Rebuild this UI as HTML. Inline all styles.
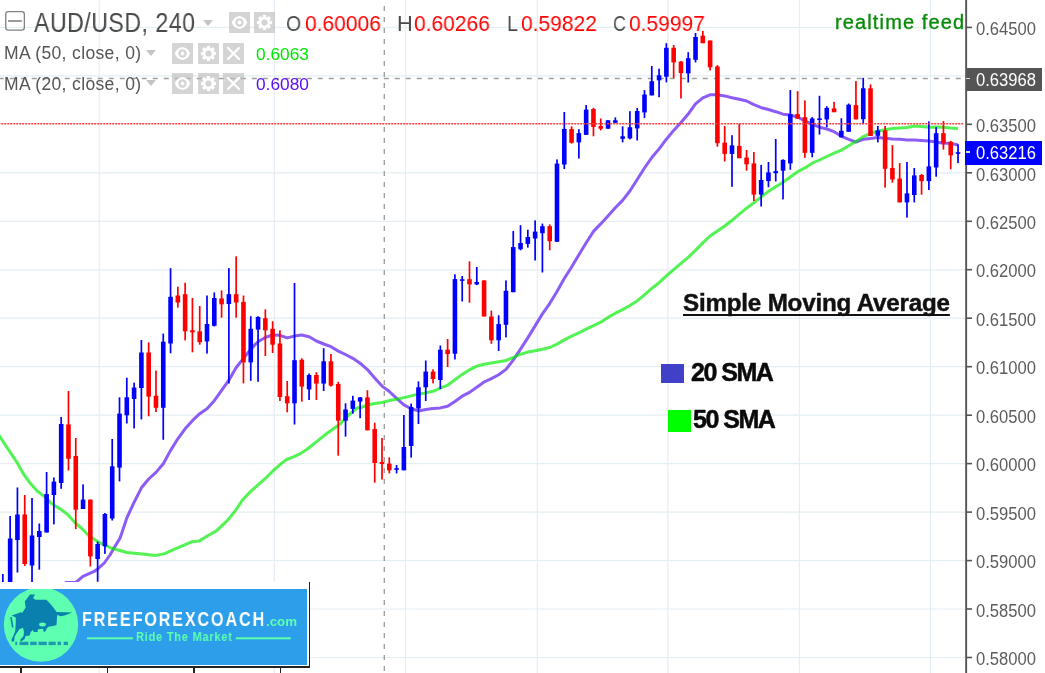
<!DOCTYPE html>
<html><head><meta charset="utf-8"><style>
*{margin:0;padding:0;box-sizing:border-box}
html,body{width:1045px;height:673px;overflow:hidden;background:#fff}
body{position:relative;font-family:"Liberation Sans",sans-serif}
svg{position:absolute;left:0;top:0}
.t{position:absolute;white-space:pre;line-height:1;will-change:transform}
.ax{position:absolute;left:976px;font-size:16.6px;color:#5d5d5d;line-height:21px;white-space:pre;transform:scaleY(1.05);transform-origin:0 50%;will-change:transform}
.btn{position:absolute;width:21px;height:21px;background:rgba(188,188,188,0.64)}
.tri{position:absolute;width:0;height:0;border-left:5.5px solid transparent;border-right:5.5px solid transparent;border-top:6px solid #c4c4c4}
</style></head><body>
<svg width="1045" height="673" viewBox="0 0 1045 673">
<line x1="99.2" y1="0" x2="99.2" y2="673" stroke="#e5eef3" stroke-width="1.2"/>
<line x1="274.3" y1="0" x2="274.3" y2="673" stroke="#e5eef3" stroke-width="1.2"/>
<line x1="405.5" y1="0" x2="405.5" y2="673" stroke="#e5eef3" stroke-width="1.2"/>
<line x1="537.3" y1="0" x2="537.3" y2="673" stroke="#e5eef3" stroke-width="1.2"/>
<line x1="667.8" y1="0" x2="667.8" y2="673" stroke="#e5eef3" stroke-width="1.2"/>
<line x1="799.4" y1="0" x2="799.4" y2="673" stroke="#e5eef3" stroke-width="1.2"/>
<line x1="930.4" y1="0" x2="930.4" y2="673" stroke="#e5eef3" stroke-width="1.2"/>
<line x1="0" y1="27.4" x2="966" y2="27.4" stroke="#e5eef3" stroke-width="1.2"/>
<line x1="0" y1="75.9" x2="966" y2="75.9" stroke="#e5eef3" stroke-width="1.2"/>
<line x1="0" y1="172.8" x2="966" y2="172.8" stroke="#e5eef3" stroke-width="1.2"/>
<line x1="0" y1="221.3" x2="966" y2="221.3" stroke="#e5eef3" stroke-width="1.2"/>
<line x1="0" y1="269.8" x2="966" y2="269.8" stroke="#e5eef3" stroke-width="1.2"/>
<line x1="0" y1="318.2" x2="966" y2="318.2" stroke="#e5eef3" stroke-width="1.2"/>
<line x1="0" y1="366.7" x2="966" y2="366.7" stroke="#e5eef3" stroke-width="1.2"/>
<line x1="0" y1="415.2" x2="966" y2="415.2" stroke="#e5eef3" stroke-width="1.2"/>
<line x1="0" y1="463.6" x2="966" y2="463.6" stroke="#e5eef3" stroke-width="1.2"/>
<line x1="0" y1="512.1" x2="966" y2="512.1" stroke="#e5eef3" stroke-width="1.2"/>
<line x1="0" y1="560.6" x2="966" y2="560.6" stroke="#e5eef3" stroke-width="1.2"/>
<line x1="0" y1="609.0" x2="966" y2="609.0" stroke="#e5eef3" stroke-width="1.2"/>
<line x1="0" y1="657.5" x2="966" y2="657.5" stroke="#e5eef3" stroke-width="1.2"/>
<line x1="384.3" y1="0" x2="384.3" y2="673" stroke="#9e9e9e" stroke-width="1.35" stroke-dasharray="5 6" stroke-dashoffset="-6"/>
<line x1="0" y1="78.5" x2="966" y2="78.5" stroke="#9e9e9e" stroke-width="1.35" stroke-dasharray="5 6" stroke-dashoffset="1.2"/>
<path d="M20.0,605.0 L50.0,592.0 L60.0,586.0 L66.5,582.4 L76.2,582.2 L82.9,576.4 L93.6,571.7 L98.3,568.4 L104.3,563.0 L110.0,555.0 L113.4,549.1 L120.1,538.0 L126.8,518.0 L133.5,503.5 L141.4,487.8 L148.7,479.0 L156.0,472.4 L163.3,463.8 L170.6,450.4 L177.8,438.8 L185.1,428.8 L192.4,420.7 L199.7,413.7 L207.0,408.7 L214.3,400.7 L221.6,390.4 L228.9,380.2 L236.2,367.5 L243.5,358.4 L250.8,349.1 L258.0,341.7 L265.3,337.5 L272.6,334.9 L279.9,335.3 L287.2,337.9 L294.5,336.1 L301.8,335.0 L309.1,336.7 L316.4,341.0 L323.7,344.0 L331.0,346.7 L338.3,351.1 L345.5,354.5 L352.8,358.3 L360.1,363.2 L367.4,369.6 L374.7,378.0 L382.0,386.1 L389.3,391.5 L396.6,398.4 L403.9,404.9 L411.2,408.8 L418.5,410.9 L425.8,409.6 L433.0,408.4 L440.3,407.9 L447.6,406.3 L454.9,401.5 L462.2,396.2 L469.5,392.4 L476.8,387.2 L484.1,382.0 L491.4,378.6 L498.7,374.7 L506.0,369.4 L513.2,360.2 L520.5,349.2 L527.8,337.9 L535.1,325.9 L542.4,313.9 L549.7,303.6 L557.0,291.4 L564.3,278.5 L571.6,267.0 L578.9,254.7 L586.2,242.7 L593.5,231.4 L600.7,223.9 L608.0,215.9 L615.3,207.7 L622.6,200.4 L629.9,191.0 L637.2,179.5 L644.5,168.0 L651.8,157.5 L659.1,148.9 L666.4,139.2 L673.7,130.4 L681.0,122.5 L688.2,114.1 L695.5,103.9 L702.8,97.9 L710.1,94.8 L717.4,94.8 L724.7,95.9 L732.0,97.7 L739.3,99.2 L746.6,101.0 L753.9,104.7 L761.2,107.7 L768.4,109.5 L775.7,111.7 L783.0,114.2 L790.3,115.1 L797.6,117.0 L804.9,120.9 L812.2,124.4 L819.5,127.2 L826.8,129.0 L834.1,131.7 L841.4,136.3 L848.7,139.4 L855.9,142.0 L863.2,139.3 L870.5,138.4 L877.8,137.6 L885.1,138.2 L892.4,138.9 L899.7,139.3 L907.0,140.0 L914.3,140.1 L921.6,140.6 L928.9,141.0 L936.1,141.9 L943.4,143.2 L950.7,143.3 L958.0,145.0" fill="none" stroke="#8c5cf6" stroke-width="3" stroke-linejoin="round" stroke-linecap="butt"/>
<path d="M-5.0,429.0 L0.0,436.9 L8.9,450.3 L17.8,463.7 L23.2,473.5 L30.3,483.3 L37.4,491.3 L44.6,496.6 L51.7,503.8 L60.6,509.1 L67.7,514.5 L74.9,522.5 L82.0,528.7 L88.9,535.8 L100.0,542.9 L111.2,548.0 L126.8,552.5 L142.4,554.0 L155.7,555.4 L164.6,553.6 L173.5,549.6 L180.0,546.9 L192.2,541.7 L199.0,541.1 L208.6,535.3 L216.4,530.9 L228.0,519.9 L235.7,510.2 L242.5,500.0 L251.2,490.9 L258.9,484.1 L266.6,477.3 L274.3,469.6 L282.1,462.9 L286.7,459.5 L293.4,456.9 L300.0,453.8 L306.7,449.5 L313.4,444.2 L320.1,438.8 L326.8,433.5 L333.5,428.8 L340.2,423.9 L346.8,416.8 L353.5,410.7 L358.3,407.4 L360.1,407.9 L367.4,405.0 L374.7,403.5 L382.0,402.5 L389.3,400.6 L396.6,399.3 L403.9,397.6 L411.2,395.9 L418.5,394.0 L425.8,392.9 L433.0,391.3 L440.3,388.1 L447.6,385.2 L454.9,379.7 L462.2,374.4 L469.5,369.8 L476.8,366.1 L484.1,364.2 L491.4,363.0 L498.7,361.8 L506.0,360.5 L513.2,357.5 L520.5,354.2 L527.8,352.1 L535.1,350.8 L542.4,349.3 L549.7,347.5 L557.0,344.1 L564.3,339.9 L571.6,336.2 L578.9,332.9 L586.2,329.1 L593.5,325.7 L600.7,322.2 L608.0,317.4 L615.3,313.2 L622.6,309.6 L629.9,305.5 L637.2,300.9 L644.5,294.8 L651.8,288.4 L659.1,282.7 L666.4,275.9 L673.7,269.7 L681.0,263.4 L688.2,257.4 L695.5,250.4 L702.8,242.9 L710.1,236.0 L717.4,230.9 L724.7,226.0 L732.0,220.3 L739.3,214.2 L746.6,208.2 L753.9,202.7 L761.2,196.9 L768.4,191.4 L775.7,186.7 L783.0,182.2 L790.3,177.0 L797.6,171.8 L804.9,167.9 L812.2,163.2 L819.5,160.0 L826.8,156.5 L834.1,153.1 L841.4,150.1 L848.7,145.8 L855.9,141.4 L863.2,136.7 L870.5,133.6 L877.8,131.3 L885.1,129.8 L892.4,128.6 L899.7,128.0 L907.0,127.4 L914.3,126.1 L921.6,126.4 L928.9,127.2 L936.1,127.0 L943.4,127.2 L950.7,128.1 L958.0,128.6" fill="none" stroke="rgba(0,238,0,0.68)" stroke-width="3" stroke-linejoin="round" stroke-linecap="butt"/>
<rect x="2.00" y="574.0" width="1.7" height="8.0" fill="#0000ff"/>
<rect x="9.29" y="516.0" width="1.7" height="66.0" fill="#0000ff"/>
<rect x="7.84" y="538.5" width="4.6" height="43.5" fill="#0000ff"/>
<rect x="16.58" y="487.5" width="1.7" height="85.0" fill="#0000ff"/>
<rect x="15.13" y="514.5" width="4.6" height="25.5" fill="#0000ff"/>
<rect x="23.87" y="495.0" width="1.7" height="71.0" fill="#ff0000"/>
<rect x="22.42" y="514.5" width="4.6" height="49.5" fill="#ff0000"/>
<rect x="31.17" y="498.0" width="1.7" height="84.0" fill="#0000ff"/>
<rect x="29.72" y="535.5" width="4.6" height="30.0" fill="#0000ff"/>
<rect x="38.46" y="523.5" width="1.7" height="46.2" fill="#0000ff"/>
<rect x="37.01" y="531.0" width="4.6" height="6.0" fill="#0000ff"/>
<rect x="45.75" y="472.0" width="1.7" height="60.5" fill="#0000ff"/>
<rect x="44.30" y="494.0" width="4.6" height="38.5" fill="#0000ff"/>
<rect x="53.04" y="477.5" width="1.7" height="46.9" fill="#0000ff"/>
<rect x="51.59" y="481.6" width="4.6" height="13.4" fill="#0000ff"/>
<rect x="60.33" y="417.0" width="1.7" height="71.8" fill="#0000ff"/>
<rect x="58.88" y="424.0" width="4.6" height="59.0" fill="#0000ff"/>
<rect x="67.62" y="391.0" width="1.7" height="79.6" fill="#ff0000"/>
<rect x="66.17" y="424.4" width="4.6" height="34.4" fill="#ff0000"/>
<rect x="74.91" y="438.0" width="1.7" height="91.2" fill="#ff0000"/>
<rect x="73.46" y="456.0" width="4.6" height="53.7" fill="#ff0000"/>
<rect x="82.21" y="484.4" width="1.7" height="24.6" fill="#0000ff"/>
<rect x="80.76" y="499.6" width="4.6" height="9.4" fill="#0000ff"/>
<rect x="89.50" y="499.6" width="1.7" height="66.9" fill="#ff0000"/>
<rect x="88.05" y="499.6" width="4.6" height="56.8" fill="#ff0000"/>
<rect x="96.79" y="541.7" width="1.7" height="40.0" fill="#0000ff"/>
<rect x="95.34" y="544.0" width="4.6" height="15.0" fill="#0000ff"/>
<rect x="104.08" y="513.0" width="1.7" height="40.9" fill="#0000ff"/>
<rect x="102.63" y="514.0" width="4.6" height="32.3" fill="#0000ff"/>
<rect x="111.37" y="439.0" width="1.7" height="81.5" fill="#0000ff"/>
<rect x="109.92" y="466.3" width="4.6" height="52.2" fill="#0000ff"/>
<rect x="118.66" y="397.3" width="1.7" height="84.1" fill="#0000ff"/>
<rect x="117.21" y="413.6" width="4.6" height="54.0" fill="#0000ff"/>
<rect x="125.95" y="377.7" width="1.7" height="45.8" fill="#0000ff"/>
<rect x="124.50" y="397.3" width="4.6" height="18.0" fill="#0000ff"/>
<rect x="133.25" y="382.6" width="1.7" height="45.8" fill="#0000ff"/>
<rect x="131.80" y="387.5" width="4.6" height="11.5" fill="#0000ff"/>
<rect x="140.54" y="340.0" width="1.7" height="79.5" fill="#0000ff"/>
<rect x="139.09" y="352.5" width="4.6" height="35.5" fill="#0000ff"/>
<rect x="147.83" y="342.4" width="1.7" height="73.9" fill="#ff0000"/>
<rect x="146.38" y="352.5" width="4.6" height="44.1" fill="#ff0000"/>
<rect x="155.12" y="370.5" width="1.7" height="41.5" fill="#ff0000"/>
<rect x="153.67" y="395.7" width="4.6" height="12.1" fill="#ff0000"/>
<rect x="162.41" y="333.6" width="1.7" height="106.2" fill="#0000ff"/>
<rect x="160.96" y="341.7" width="4.6" height="66.1" fill="#0000ff"/>
<rect x="169.70" y="268.2" width="1.7" height="85.1" fill="#0000ff"/>
<rect x="168.25" y="296.8" width="4.6" height="46.7" fill="#0000ff"/>
<rect x="176.99" y="286.6" width="1.7" height="21.0" fill="#ff0000"/>
<rect x="175.54" y="295.5" width="4.6" height="7.0" fill="#ff0000"/>
<rect x="184.28" y="282.8" width="1.7" height="57.6" fill="#ff0000"/>
<rect x="182.83" y="294.2" width="4.6" height="37.1" fill="#ff0000"/>
<rect x="191.58" y="298.0" width="1.7" height="54.3" fill="#ff0000"/>
<rect x="190.13" y="330.3" width="4.6" height="2.0" fill="#ff0000"/>
<rect x="198.87" y="306.0" width="1.7" height="38.7" fill="#ff0000"/>
<rect x="197.42" y="331.3" width="4.6" height="10.9" fill="#ff0000"/>
<rect x="206.16" y="295.5" width="1.7" height="58.1" fill="#0000ff"/>
<rect x="204.71" y="324.0" width="4.6" height="17.4" fill="#0000ff"/>
<rect x="213.45" y="292.4" width="1.7" height="34.1" fill="#0000ff"/>
<rect x="212.00" y="298.0" width="4.6" height="27.8" fill="#0000ff"/>
<rect x="220.74" y="290.4" width="1.7" height="27.3" fill="#ff0000"/>
<rect x="219.29" y="298.5" width="4.6" height="5.8" fill="#ff0000"/>
<rect x="228.03" y="268.1" width="1.7" height="115.4" fill="#0000ff"/>
<rect x="226.58" y="294.2" width="4.6" height="9.8" fill="#0000ff"/>
<rect x="235.32" y="256.3" width="1.7" height="61.4" fill="#ff0000"/>
<rect x="233.87" y="294.2" width="4.6" height="8.3" fill="#ff0000"/>
<rect x="242.62" y="295.5" width="1.7" height="87.9" fill="#ff0000"/>
<rect x="241.17" y="301.8" width="4.6" height="60.6" fill="#ff0000"/>
<rect x="249.91" y="316.2" width="1.7" height="64.6" fill="#0000ff"/>
<rect x="248.46" y="328.8" width="4.6" height="33.6" fill="#0000ff"/>
<rect x="257.20" y="316.2" width="1.7" height="65.6" fill="#0000ff"/>
<rect x="255.75" y="317.0" width="4.6" height="12.6" fill="#0000ff"/>
<rect x="264.49" y="309.4" width="1.7" height="46.6" fill="#ff0000"/>
<rect x="263.04" y="318.2" width="4.6" height="12.1" fill="#ff0000"/>
<rect x="271.78" y="321.2" width="1.7" height="31.8" fill="#ff0000"/>
<rect x="270.33" y="328.8" width="4.6" height="15.9" fill="#ff0000"/>
<rect x="279.07" y="330.3" width="1.7" height="70.7" fill="#ff0000"/>
<rect x="277.62" y="343.5" width="4.6" height="53.5" fill="#ff0000"/>
<rect x="286.36" y="381.0" width="1.7" height="31.3" fill="#ff0000"/>
<rect x="284.91" y="396.2" width="4.6" height="7.1" fill="#ff0000"/>
<rect x="293.66" y="283.0" width="1.7" height="141.5" fill="#0000ff"/>
<rect x="292.21" y="360.2" width="4.6" height="43.1" fill="#0000ff"/>
<rect x="300.95" y="358.3" width="1.7" height="43.4" fill="#ff0000"/>
<rect x="299.50" y="359.8" width="4.6" height="26.8" fill="#ff0000"/>
<rect x="308.24" y="373.5" width="1.7" height="26.5" fill="#0000ff"/>
<rect x="306.79" y="375.0" width="4.6" height="14.4" fill="#0000ff"/>
<rect x="315.53" y="372.2" width="1.7" height="27.8" fill="#ff0000"/>
<rect x="314.08" y="375.0" width="4.6" height="8.6" fill="#ff0000"/>
<rect x="322.82" y="348.2" width="1.7" height="42.8" fill="#0000ff"/>
<rect x="321.37" y="361.3" width="4.6" height="22.3" fill="#0000ff"/>
<rect x="330.11" y="354.0" width="1.7" height="32.6" fill="#ff0000"/>
<rect x="328.66" y="361.3" width="4.6" height="24.3" fill="#ff0000"/>
<rect x="337.40" y="381.8" width="1.7" height="73.9" fill="#ff0000"/>
<rect x="335.95" y="384.0" width="4.6" height="36.7" fill="#ff0000"/>
<rect x="344.70" y="403.3" width="1.7" height="33.3" fill="#0000ff"/>
<rect x="343.25" y="409.5" width="4.6" height="11.2" fill="#0000ff"/>
<rect x="351.99" y="395.8" width="1.7" height="17.9" fill="#0000ff"/>
<rect x="350.54" y="400.6" width="4.6" height="8.3" fill="#0000ff"/>
<rect x="359.28" y="397.0" width="1.7" height="21.2" fill="#0000ff"/>
<rect x="357.83" y="397.4" width="4.6" height="4.2" fill="#0000ff"/>
<rect x="366.57" y="390.2" width="1.7" height="40.1" fill="#ff0000"/>
<rect x="365.12" y="397.4" width="4.6" height="32.9" fill="#ff0000"/>
<rect x="373.86" y="422.8" width="1.7" height="59.9" fill="#ff0000"/>
<rect x="372.41" y="429.0" width="4.6" height="34.0" fill="#ff0000"/>
<rect x="381.15" y="438.0" width="1.7" height="41.6" fill="#ff0000"/>
<rect x="379.70" y="462.0" width="4.6" height="2.0" fill="#ff0000"/>
<rect x="388.44" y="457.4" width="1.7" height="16.0" fill="#ff0000"/>
<rect x="386.99" y="463.6" width="4.6" height="6.7" fill="#ff0000"/>
<rect x="395.74" y="465.0" width="1.7" height="8.4" fill="#0000ff"/>
<rect x="394.29" y="468.2" width="4.6" height="1.6" fill="#0000ff"/>
<rect x="403.03" y="415.0" width="1.7" height="55.3" fill="#0000ff"/>
<rect x="401.58" y="447.0" width="4.6" height="23.3" fill="#0000ff"/>
<rect x="410.32" y="403.6" width="1.7" height="54.0" fill="#0000ff"/>
<rect x="408.87" y="407.0" width="4.6" height="39.0" fill="#0000ff"/>
<rect x="417.61" y="381.4" width="1.7" height="42.6" fill="#0000ff"/>
<rect x="416.16" y="387.3" width="4.6" height="21.2" fill="#0000ff"/>
<rect x="424.90" y="360.5" width="1.7" height="40.5" fill="#0000ff"/>
<rect x="423.45" y="371.6" width="4.6" height="15.7" fill="#0000ff"/>
<rect x="432.19" y="369.3" width="1.7" height="14.1" fill="#ff0000"/>
<rect x="430.74" y="371.6" width="4.6" height="7.4" fill="#ff0000"/>
<rect x="439.48" y="345.5" width="1.7" height="43.5" fill="#0000ff"/>
<rect x="438.03" y="349.7" width="4.6" height="30.3" fill="#0000ff"/>
<rect x="446.78" y="339.0" width="1.7" height="28.0" fill="#ff0000"/>
<rect x="445.33" y="349.7" width="4.6" height="4.3" fill="#ff0000"/>
<rect x="454.07" y="274.3" width="1.7" height="85.2" fill="#0000ff"/>
<rect x="452.62" y="279.1" width="4.6" height="74.6" fill="#0000ff"/>
<rect x="461.36" y="276.0" width="1.7" height="25.5" fill="#0000ff"/>
<rect x="459.91" y="279.3" width="4.6" height="1.6" fill="#0000ff"/>
<rect x="468.65" y="261.3" width="1.7" height="41.4" fill="#ff0000"/>
<rect x="467.20" y="279.2" width="4.6" height="5.2" fill="#ff0000"/>
<rect x="475.94" y="267.0" width="1.7" height="18.1" fill="#0000ff"/>
<rect x="474.49" y="282.0" width="4.6" height="2.4" fill="#0000ff"/>
<rect x="483.23" y="280.4" width="1.7" height="36.1" fill="#ff0000"/>
<rect x="481.78" y="280.4" width="4.6" height="36.1" fill="#ff0000"/>
<rect x="490.52" y="310.6" width="1.7" height="33.2" fill="#ff0000"/>
<rect x="489.07" y="316.5" width="4.6" height="23.8" fill="#ff0000"/>
<rect x="497.82" y="315.3" width="1.7" height="35.7" fill="#0000ff"/>
<rect x="496.37" y="324.1" width="4.6" height="16.2" fill="#0000ff"/>
<rect x="505.11" y="280.4" width="1.7" height="57.0" fill="#0000ff"/>
<rect x="503.66" y="290.8" width="4.6" height="34.0" fill="#0000ff"/>
<rect x="512.40" y="231.0" width="1.7" height="61.2" fill="#0000ff"/>
<rect x="510.95" y="247.1" width="4.6" height="45.1" fill="#0000ff"/>
<rect x="519.69" y="225.2" width="1.7" height="25.1" fill="#0000ff"/>
<rect x="518.24" y="243.0" width="4.6" height="6.2" fill="#0000ff"/>
<rect x="526.98" y="229.7" width="1.7" height="17.9" fill="#0000ff"/>
<rect x="525.53" y="237.0" width="4.6" height="6.9" fill="#0000ff"/>
<rect x="534.27" y="220.4" width="1.7" height="40.1" fill="#0000ff"/>
<rect x="532.82" y="231.6" width="4.6" height="6.9" fill="#0000ff"/>
<rect x="541.56" y="223.6" width="1.7" height="48.9" fill="#0000ff"/>
<rect x="540.11" y="226.2" width="4.6" height="7.0" fill="#0000ff"/>
<rect x="548.86" y="224.4" width="1.7" height="25.9" fill="#ff0000"/>
<rect x="547.41" y="226.2" width="4.6" height="15.0" fill="#ff0000"/>
<rect x="556.15" y="159.4" width="1.7" height="82.4" fill="#0000ff"/>
<rect x="554.70" y="163.6" width="4.6" height="78.2" fill="#0000ff"/>
<rect x="563.44" y="112.0" width="1.7" height="57.0" fill="#0000ff"/>
<rect x="561.99" y="128.9" width="4.6" height="35.6" fill="#0000ff"/>
<rect x="570.73" y="126.3" width="1.7" height="17.3" fill="#ff0000"/>
<rect x="569.28" y="129.1" width="4.6" height="13.7" fill="#ff0000"/>
<rect x="578.02" y="129.2" width="1.7" height="29.4" fill="#0000ff"/>
<rect x="576.57" y="133.1" width="4.6" height="9.3" fill="#0000ff"/>
<rect x="585.31" y="105.0" width="1.7" height="29.9" fill="#0000ff"/>
<rect x="583.86" y="109.6" width="4.6" height="25.3" fill="#0000ff"/>
<rect x="592.60" y="107.8" width="1.7" height="28.5" fill="#ff0000"/>
<rect x="591.15" y="109.0" width="4.6" height="17.9" fill="#ff0000"/>
<rect x="599.89" y="118.5" width="1.7" height="11.9" fill="#ff0000"/>
<rect x="598.44" y="126.0" width="4.6" height="2.7" fill="#ff0000"/>
<rect x="607.19" y="120.3" width="1.7" height="8.4" fill="#0000ff"/>
<rect x="605.74" y="120.3" width="4.6" height="8.4" fill="#0000ff"/>
<rect x="614.48" y="117.4" width="1.7" height="5.4" fill="#0000ff"/>
<rect x="613.03" y="120.3" width="4.6" height="2.5" fill="#0000ff"/>
<rect x="621.77" y="126.3" width="1.7" height="16.1" fill="#0000ff"/>
<rect x="620.32" y="136.3" width="4.6" height="2.5" fill="#0000ff"/>
<rect x="629.06" y="111.2" width="1.7" height="28.2" fill="#0000ff"/>
<rect x="627.61" y="127.2" width="4.6" height="11.2" fill="#0000ff"/>
<rect x="636.35" y="107.9" width="1.7" height="32.6" fill="#0000ff"/>
<rect x="634.90" y="111.0" width="4.6" height="17.4" fill="#0000ff"/>
<rect x="643.64" y="90.1" width="1.7" height="28.0" fill="#0000ff"/>
<rect x="642.19" y="94.5" width="4.6" height="17.9" fill="#0000ff"/>
<rect x="650.93" y="66.0" width="1.7" height="29.4" fill="#0000ff"/>
<rect x="649.48" y="81.2" width="4.6" height="14.2" fill="#0000ff"/>
<rect x="658.23" y="68.7" width="1.7" height="28.5" fill="#0000ff"/>
<rect x="656.78" y="75.3" width="4.6" height="5.0" fill="#0000ff"/>
<rect x="665.52" y="43.2" width="1.7" height="39.2" fill="#0000ff"/>
<rect x="664.07" y="47.8" width="4.6" height="28.9" fill="#0000ff"/>
<rect x="672.81" y="45.0" width="1.7" height="33.1" fill="#ff0000"/>
<rect x="671.36" y="47.8" width="4.6" height="14.6" fill="#ff0000"/>
<rect x="680.10" y="61.0" width="1.7" height="37.5" fill="#ff0000"/>
<rect x="678.65" y="61.6" width="4.6" height="11.5" fill="#ff0000"/>
<rect x="687.39" y="52.2" width="1.7" height="30.3" fill="#0000ff"/>
<rect x="685.94" y="58.2" width="4.6" height="15.2" fill="#0000ff"/>
<rect x="694.68" y="33.0" width="1.7" height="29.4" fill="#0000ff"/>
<rect x="693.23" y="37.0" width="4.6" height="22.8" fill="#0000ff"/>
<rect x="701.97" y="30.9" width="1.7" height="12.3" fill="#ff0000"/>
<rect x="700.52" y="35.7" width="4.6" height="7.5" fill="#ff0000"/>
<rect x="709.27" y="40.5" width="1.7" height="30.0" fill="#ff0000"/>
<rect x="707.82" y="40.5" width="4.6" height="26.8" fill="#ff0000"/>
<rect x="716.56" y="65.1" width="1.7" height="81.6" fill="#ff0000"/>
<rect x="715.11" y="66.5" width="4.6" height="76.7" fill="#ff0000"/>
<rect x="723.85" y="126.1" width="1.7" height="35.3" fill="#ff0000"/>
<rect x="722.40" y="142.7" width="4.6" height="11.2" fill="#ff0000"/>
<rect x="731.14" y="135.2" width="1.7" height="51.6" fill="#0000ff"/>
<rect x="729.69" y="145.4" width="4.6" height="8.5" fill="#0000ff"/>
<rect x="738.43" y="124.0" width="1.7" height="34.2" fill="#ff0000"/>
<rect x="736.98" y="145.9" width="4.6" height="12.3" fill="#ff0000"/>
<rect x="745.72" y="150.0" width="1.7" height="20.7" fill="#ff0000"/>
<rect x="744.27" y="157.6" width="4.6" height="6.7" fill="#ff0000"/>
<rect x="753.01" y="152.0" width="1.7" height="49.0" fill="#ff0000"/>
<rect x="751.56" y="163.4" width="4.6" height="31.2" fill="#ff0000"/>
<rect x="760.31" y="164.9" width="1.7" height="41.6" fill="#0000ff"/>
<rect x="758.86" y="180.0" width="4.6" height="14.6" fill="#0000ff"/>
<rect x="767.60" y="162.0" width="1.7" height="25.3" fill="#0000ff"/>
<rect x="766.15" y="172.4" width="4.6" height="8.7" fill="#0000ff"/>
<rect x="774.89" y="139.0" width="1.7" height="42.5" fill="#0000ff"/>
<rect x="773.44" y="171.1" width="4.6" height="2.1" fill="#0000ff"/>
<rect x="782.18" y="159.3" width="1.7" height="40.1" fill="#0000ff"/>
<rect x="780.73" y="159.9" width="4.6" height="10.8" fill="#0000ff"/>
<rect x="789.47" y="90.0" width="1.7" height="79.7" fill="#0000ff"/>
<rect x="788.02" y="114.1" width="4.6" height="49.3" fill="#0000ff"/>
<rect x="796.76" y="91.2" width="1.7" height="27.5" fill="#ff0000"/>
<rect x="795.31" y="114.1" width="4.6" height="4.6" fill="#ff0000"/>
<rect x="804.05" y="100.4" width="1.7" height="57.4" fill="#ff0000"/>
<rect x="802.60" y="117.2" width="4.6" height="35.6" fill="#ff0000"/>
<rect x="811.35" y="117.1" width="1.7" height="40.2" fill="#0000ff"/>
<rect x="809.90" y="118.5" width="4.6" height="34.3" fill="#0000ff"/>
<rect x="818.64" y="95.8" width="1.7" height="38.8" fill="#0000ff"/>
<rect x="817.19" y="118.4" width="4.6" height="1.6" fill="#0000ff"/>
<rect x="825.93" y="106.3" width="1.7" height="20.9" fill="#0000ff"/>
<rect x="824.48" y="107.9" width="4.6" height="11.5" fill="#0000ff"/>
<rect x="833.22" y="101.9" width="1.7" height="10.3" fill="#ff0000"/>
<rect x="831.77" y="108.4" width="4.6" height="3.8" fill="#ff0000"/>
<rect x="840.51" y="118.2" width="1.7" height="19.1" fill="#0000ff"/>
<rect x="839.06" y="130.8" width="4.6" height="6.5" fill="#0000ff"/>
<rect x="847.80" y="103.5" width="1.7" height="28.3" fill="#0000ff"/>
<rect x="846.35" y="104.7" width="4.6" height="27.1" fill="#0000ff"/>
<rect x="855.09" y="81.1" width="1.7" height="38.3" fill="#ff0000"/>
<rect x="853.64" y="105.1" width="4.6" height="14.3" fill="#ff0000"/>
<rect x="862.39" y="77.8" width="1.7" height="46.4" fill="#0000ff"/>
<rect x="860.94" y="88.3" width="4.6" height="30.9" fill="#0000ff"/>
<rect x="869.68" y="84.4" width="1.7" height="51.6" fill="#ff0000"/>
<rect x="868.23" y="88.3" width="4.6" height="47.7" fill="#ff0000"/>
<rect x="876.97" y="126.0" width="1.7" height="16.4" fill="#0000ff"/>
<rect x="875.52" y="130.4" width="4.6" height="5.4" fill="#0000ff"/>
<rect x="884.26" y="126.0" width="1.7" height="61.6" fill="#ff0000"/>
<rect x="882.81" y="130.4" width="4.6" height="38.4" fill="#ff0000"/>
<rect x="891.55" y="145.1" width="1.7" height="37.6" fill="#ff0000"/>
<rect x="890.10" y="168.0" width="4.6" height="11.5" fill="#ff0000"/>
<rect x="898.84" y="163.1" width="1.7" height="39.3" fill="#ff0000"/>
<rect x="897.39" y="178.6" width="4.6" height="23.8" fill="#ff0000"/>
<rect x="906.13" y="162.0" width="1.7" height="55.6" fill="#0000ff"/>
<rect x="904.68" y="193.4" width="4.6" height="9.0" fill="#0000ff"/>
<rect x="913.43" y="168.0" width="1.7" height="34.4" fill="#0000ff"/>
<rect x="911.98" y="175.4" width="4.6" height="19.6" fill="#0000ff"/>
<rect x="920.72" y="174.0" width="1.7" height="20.7" fill="#ff0000"/>
<rect x="919.27" y="175.0" width="4.6" height="6.1" fill="#ff0000"/>
<rect x="928.01" y="121.4" width="1.7" height="68.6" fill="#0000ff"/>
<rect x="926.56" y="166.4" width="4.6" height="14.7" fill="#0000ff"/>
<rect x="935.30" y="127.2" width="1.7" height="49.5" fill="#0000ff"/>
<rect x="933.85" y="133.2" width="4.6" height="34.3" fill="#0000ff"/>
<rect x="942.59" y="121.1" width="1.7" height="28.5" fill="#ff0000"/>
<rect x="941.14" y="133.2" width="4.6" height="10.3" fill="#ff0000"/>
<rect x="949.88" y="141.0" width="1.7" height="28.2" fill="#ff0000"/>
<rect x="948.43" y="141.9" width="4.6" height="13.5" fill="#ff0000"/>
<rect x="957.17" y="144.3" width="1.7" height="18.8" fill="#0000ff"/>
<rect x="955.72" y="152.2" width="4.6" height="1.6" fill="#0000ff"/>
<line x1="0" y1="123.7" x2="963.5" y2="123.7" stroke="#ff3a3a" stroke-width="1.4" stroke-dasharray="2 1" stroke-dashoffset="1.75"/>
<rect x="965.2" y="0" width="1.9" height="673" fill="#555"/>
<rect x="966" y="26.6" width="6" height="1.6" fill="#555"/>
<rect x="966" y="75.1" width="6" height="1.6" fill="#555"/>
<rect x="966" y="123.5" width="6" height="1.6" fill="#555"/>
<rect x="966" y="172.0" width="6" height="1.6" fill="#555"/>
<rect x="966" y="220.5" width="6" height="1.6" fill="#555"/>
<rect x="966" y="268.9" width="6" height="1.6" fill="#555"/>
<rect x="966" y="317.4" width="6" height="1.6" fill="#555"/>
<rect x="966" y="365.9" width="6" height="1.6" fill="#555"/>
<rect x="966" y="414.4" width="6" height="1.6" fill="#555"/>
<rect x="966" y="462.8" width="6" height="1.6" fill="#555"/>
<rect x="966" y="511.3" width="6" height="1.6" fill="#555"/>
<rect x="966" y="559.8" width="6" height="1.6" fill="#555"/>
<rect x="966" y="608.2" width="6" height="1.6" fill="#555"/>
<rect x="966" y="656.7" width="6" height="1.6" fill="#555"/>
</svg>
<div class="ax" style="top:19.1px">0.64500</div>
<div class="ax" style="top:67.6px">0.64000</div>
<div class="ax" style="top:116.0px">0.63500</div>
<div class="ax" style="top:164.5px">0.63000</div>
<div class="ax" style="top:213.0px">0.62500</div>
<div class="ax" style="top:261.4px">0.62000</div>
<div class="ax" style="top:309.9px">0.61500</div>
<div class="ax" style="top:358.4px">0.61000</div>
<div class="ax" style="top:406.9px">0.60500</div>
<div class="ax" style="top:455.3px">0.60000</div>
<div class="ax" style="top:503.8px">0.59500</div>
<div class="ax" style="top:552.3px">0.59000</div>
<div class="ax" style="top:600.7px">0.58500</div>
<div class="ax" style="top:649.2px">0.58000</div>
<svg style="position:absolute;left:0;top:0" width="30" height="35"><rect x="5.75" y="11.65" width="18.6" height="18.4" rx="2.6" fill="none" stroke="#828282" stroke-width="1.3"/><rect x="8.1" y="20.2" width="13.8" height="1.6" fill="#828282"/></svg>
<div class="t" style="left:33.6px;top:9.7px;font-size:27px;color:#4a4a4a;font-weight:400;letter-spacing:0.62px;transform:scaleX(0.855);transform-origin:0 0;">AUD/USD, 240</div>
<div class="tri" style="left:202.5px;top:19.8px"></div>
<div class="btn" style="left:229px;top:12px"><svg width="21" height="21" viewBox="0 0 21 21"><path d="M2.9 10.5 C5.5 2.2, 15.5 2.2, 18.1 10.5 C15.5 18.8, 5.5 18.8, 2.9 10.5Z" fill="#fff"/><circle cx="10.5" cy="10.5" r="4.2" fill="#d4d4d4"/><circle cx="10.5" cy="10.5" r="1.9" fill="#fff"/></svg></div>
<div class="btn" style="left:254px;top:12px"><svg width="21" height="21" viewBox="0 0 21 21"><g transform="translate(10.5 10.5)" fill="#fff"><circle r="5.7"/><rect x="-1.65" y="-7.6" width="3.3" height="15.2" transform="rotate(0)"/><rect x="-1.65" y="-7.6" width="3.3" height="15.2" transform="rotate(45)"/><rect x="-1.65" y="-7.6" width="3.3" height="15.2" transform="rotate(90)"/><rect x="-1.65" y="-7.6" width="3.3" height="15.2" transform="rotate(135)"/></g><circle cx="10.5" cy="10.5" r="3.1" fill="#d4d4d4"/></svg></div>
<div class="t" style="left:286.3px;top:12.7px;font-size:21.8px;color:#4a4a4a;font-weight:400;letter-spacing:0px;transform:scaleX(0.89);transform-origin:0 0;">O</div>
<div class="t" style="left:304.5px;top:12.7px;font-size:22px;color:#ff0000;font-weight:400;letter-spacing:0px;transform:scaleX(0.955);transform-origin:0 0;">0.60006</div>
<div class="t" style="left:396.6px;top:12.7px;font-size:21.8px;color:#4a4a4a;font-weight:400;letter-spacing:0px;">H</div>
<div class="t" style="left:414.1px;top:12.7px;font-size:22px;color:#ff0000;font-weight:400;letter-spacing:0px;transform:scaleX(0.955);transform-origin:0 0;">0.60266</div>
<div class="t" style="left:506.5px;top:12.7px;font-size:21.8px;color:#4a4a4a;font-weight:400;letter-spacing:0px;transform:scaleX(0.9);transform-origin:0 0;">L</div>
<div class="t" style="left:520.8px;top:12.7px;font-size:22px;color:#ff0000;font-weight:400;letter-spacing:0px;transform:scaleX(0.955);transform-origin:0 0;">0.59822</div>
<div class="t" style="left:613.0px;top:12.7px;font-size:21.8px;color:#4a4a4a;font-weight:400;letter-spacing:0px;transform:scaleX(0.82);transform-origin:0 0;">C</div>
<div class="t" style="left:629.2px;top:12.7px;font-size:22px;color:#ff0000;font-weight:400;letter-spacing:0px;transform:scaleX(0.955);transform-origin:0 0;">0.59997</div>
<div class="t" style="left:4.2px;top:44.9px;font-size:17.5px;color:#555555;font-weight:400;letter-spacing:0.36px;">MA (50, close, 0)</div>
<div class="tri" style="left:145.5px;top:50px"></div>
<div class="btn" style="left:172px;top:43px"><svg width="21" height="21" viewBox="0 0 21 21"><path d="M2.9 10.5 C5.5 2.2, 15.5 2.2, 18.1 10.5 C15.5 18.8, 5.5 18.8, 2.9 10.5Z" fill="#fff"/><circle cx="10.5" cy="10.5" r="4.2" fill="#d4d4d4"/><circle cx="10.5" cy="10.5" r="1.9" fill="#fff"/></svg></div>
<div class="btn" style="left:198px;top:43px"><svg width="21" height="21" viewBox="0 0 21 21"><g transform="translate(10.5 10.5)" fill="#fff"><circle r="5.7"/><rect x="-1.65" y="-7.6" width="3.3" height="15.2" transform="rotate(0)"/><rect x="-1.65" y="-7.6" width="3.3" height="15.2" transform="rotate(45)"/><rect x="-1.65" y="-7.6" width="3.3" height="15.2" transform="rotate(90)"/><rect x="-1.65" y="-7.6" width="3.3" height="15.2" transform="rotate(135)"/></g><circle cx="10.5" cy="10.5" r="3.1" fill="#d4d4d4"/></svg></div>
<div class="btn" style="left:223px;top:43px"><svg width="21" height="21" viewBox="0 0 21 21"><path d="M5 5 L16 16 M16 5 L5 16" stroke="#fff" stroke-width="2.3" stroke-linecap="round"/></svg></div>
<div class="t" style="left:255.8px;top:46.0px;font-size:17.3px;color:#00e600;font-weight:400;letter-spacing:0px;">0.6063</div>
<div class="t" style="left:4.2px;top:75.6px;font-size:17.5px;color:#555555;font-weight:400;letter-spacing:0.36px;">MA (20, close, 0)</div>
<div class="tri" style="left:145.5px;top:80px"></div>
<div class="btn" style="left:172px;top:73px"><svg width="21" height="21" viewBox="0 0 21 21"><path d="M2.9 10.5 C5.5 2.2, 15.5 2.2, 18.1 10.5 C15.5 18.8, 5.5 18.8, 2.9 10.5Z" fill="#fff"/><circle cx="10.5" cy="10.5" r="4.2" fill="#d4d4d4"/><circle cx="10.5" cy="10.5" r="1.9" fill="#fff"/></svg></div>
<div class="btn" style="left:198px;top:73px"><svg width="21" height="21" viewBox="0 0 21 21"><g transform="translate(10.5 10.5)" fill="#fff"><circle r="5.7"/><rect x="-1.65" y="-7.6" width="3.3" height="15.2" transform="rotate(0)"/><rect x="-1.65" y="-7.6" width="3.3" height="15.2" transform="rotate(45)"/><rect x="-1.65" y="-7.6" width="3.3" height="15.2" transform="rotate(90)"/><rect x="-1.65" y="-7.6" width="3.3" height="15.2" transform="rotate(135)"/></g><circle cx="10.5" cy="10.5" r="3.1" fill="#d4d4d4"/></svg></div>
<div class="btn" style="left:223px;top:73px"><svg width="21" height="21" viewBox="0 0 21 21"><path d="M5 5 L16 16 M16 5 L5 16" stroke="#fff" stroke-width="2.3" stroke-linecap="round"/></svg></div>
<div class="t" style="left:255.8px;top:76.3px;font-size:17.3px;color:#5c10f8;font-weight:400;letter-spacing:0px;">0.6080</div>
<div class="t" style="left:834.5px;top:11.5px;font-size:20px;color:#0a8a0a;font-weight:400;letter-spacing:1.13px;-webkit-text-stroke:0.35px #0a8a0a;">realtime feed</div>
<div class="t" style="left:682.5px;top:290.9px;font-size:24.2px;color:#111;font-weight:700;letter-spacing:-0.2px;text-decoration:underline;text-decoration-thickness:1.8px;text-underline-offset:3.4px;text-decoration-skip-ink:none;-webkit-text-stroke:0.45px #111;">Simple Moving Average</div>
<div style="position:absolute;left:661px;top:364.1px;width:23px;height:18.5px;background:#4040c8"></div>
<div class="t" style="left:691.0px;top:360.3px;font-size:25px;color:#0a0a0a;font-weight:700;letter-spacing:-1.5px;-webkit-text-stroke:0.5px #0a0a0a;">20 SMA</div>
<div style="position:absolute;left:668px;top:410.3px;width:23px;height:21.4px;background:#00ff00"></div>
<div class="t" style="left:692.7px;top:407.2px;font-size:25px;color:#0a0a0a;font-weight:700;letter-spacing:-1.5px;-webkit-text-stroke:0.5px #0a0a0a;">50 SMA</div>
<div style="position:absolute;left:965.5px;top:67.5px;width:76.3px;height:23.6px;background:#555"></div>
<div style="position:absolute;left:965.5px;top:77.8px;width:4.5px;height:1.4px;background:#ddd"></div>
<div class="ax" style="top:70.4px;color:#fff">0.63968</div>
<div style="position:absolute;left:965.3px;top:140.9px;width:76.5px;height:23.8px;background:#0000ff"></div>
<div style="position:absolute;left:965.5px;top:151.4px;width:4.5px;height:1.4px;background:#ddd"></div>
<div class="ax" style="top:143.4px;color:#fff">0.63216</div>
<div style="position:absolute;left:0;top:582px;width:309px;height:85px;background:#fff"></div>
<div style="position:absolute;left:0;top:588.7px;width:307px;height:76.2px;background:#2c9eea;overflow:hidden"><svg width="307" height="77" viewBox="0 588.7 307 77" style="position:absolute;left:0;top:0"><circle cx="41" cy="624.3" r="37.2" fill="#5effb0"/><path d="M20.9,612 L22.2,612.4 L25.7,607.2 L24.8,601.2 L27.4,597.8 L30,594.3 L35.2,594.3 L33,597.5 L35.2,599.5 L46.4,599.5 L49.8,603 L53.3,607.2 L56.7,611.6 L72.2,612.2 L65.3,615 L61,615.9 L57.1,614.6 L56.6,624.4 L54.5,625.4 L48.3,626.5 L47.3,627.5 L45.2,631.1 L43.7,631.6 L43.1,628.5 L38,629 L37.5,631.6 L33.8,631.6 L32.8,629.6 L30.7,631.6 L29.7,635.3 L25.6,635.8 L24.5,638.9 L21.4,640.9 L19.9,639.9 L23.5,635.8 L24,631.6 L23,627.5 L19.4,629 L16.8,632.7 L14.7,636.3 L14.2,640.9 L11.6,641.5 L11.6,638.9 L13.7,634.7 L15.2,630.6 L15.8,622.3 L15.8,617.2 L11.6,615.1 L15.8,613.6Z" fill="#0a80ae"/><path d="M10.2,617 L11.6,616.4 L13.6,627 L12,627.5Z" fill="#0a80ae"/><ellipse cx="42.5" cy="624.2" rx="3.4" ry="1.9" fill="#5effb0"/><rect x="15.3" y="641.4" width="1.8" height="3.4" fill="#0a80ae" opacity="0.8"/><rect x="19.5" y="641.4" width="8.9" height="3.4" fill="#0a80ae" opacity="0.8"/><rect x="30.2" y="641.4" width="6.5" height="3.4" fill="#0a80ae" opacity="0.8"/><rect x="38.5" y="641.4" width="8.3" height="3.4" fill="#0a80ae" opacity="0.8"/><rect x="48.6" y="641.4" width="7.1" height="3.4" fill="#0a80ae" opacity="0.8"/><rect x="57.5" y="641.4" width="3.5" height="3.4" fill="#0a80ae" opacity="0.8"/><rect x="63.7" y="641.4" width="4.2" height="3.4" fill="#0a80ae" opacity="0.8"/><rect x="87" y="637" width="46" height="2" fill="#5effb0"/><rect x="235.8" y="637" width="55" height="2" fill="#5effb0"/></svg></div>
<div class="t" style="left:82.4px;top:609.7px;font-size:19.7px;color:#fff;font-weight:700;letter-spacing:2.28px;transform:scaleX(0.82);transform-origin:0 0;">FREEFOREXCOACH</div>
<div class="t" style="left:266.3px;top:615.1px;font-size:13.3px;color:#5effb0;font-weight:700;letter-spacing:0px;">.com</div>
<div class="t" style="left:135.9px;top:630.4px;font-size:13px;color:#5effb0;font-weight:700;letter-spacing:0.88px;transform:scaleX(0.85);transform-origin:0 0;">Ride The Market</div>
<div style="position:absolute;left:308.6px;top:582.3px;width:1.3px;height:85.5px;background:#222"></div>
<div style="position:absolute;left:0;top:666.4px;width:310px;height:1.4px;background:#222"></div>
<div style="position:absolute;left:20.2px;top:667.5px;width:1.6px;height:5.5px;background:#222"></div>
<div style="position:absolute;left:106.8px;top:667.5px;width:1.6px;height:5.5px;background:#222"></div>
<div style="position:absolute;left:193.2px;top:667.5px;width:1.6px;height:5.5px;background:#222"></div>
<div style="position:absolute;left:279.7px;top:667.5px;width:1.6px;height:5.5px;background:#222"></div>
</body></html>
